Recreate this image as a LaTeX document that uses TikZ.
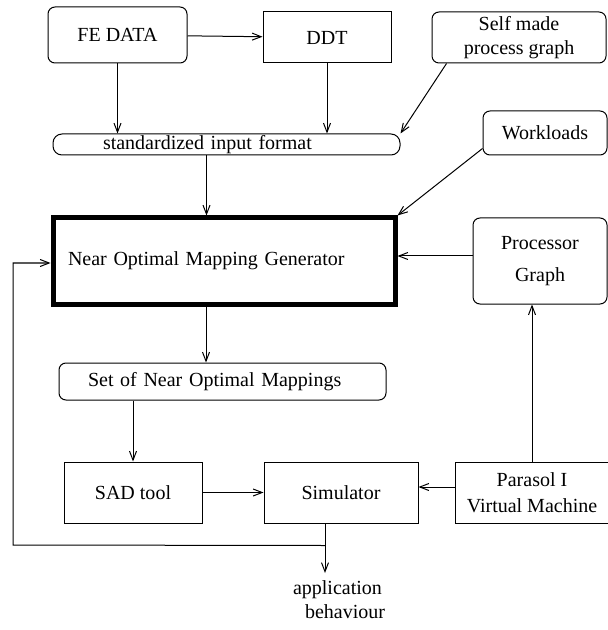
\documentclass[tikz,border=0pt]{standalone}
\usepackage{fontspec}
\setmainfont{Liberation Serif}
\usetikzlibrary{positioning,arrows.meta}
\tikzset{
  rbox/.style    = {draw, rounded corners=3.5pt, align=center, line width=0.5pt, inner sep=0pt},
  sbox/.style    = {draw, align=center, line width=0.5pt, inner sep=0pt},
  mainbox/.style = {draw, line width=2.5pt, align=left, inner xsep=7.5pt, text width=156pt, minimum height=43pt},
  flow/.style    = {-{Straight Barb[length=4.5pt,width=3.5pt]}, line width=0.5pt},
}
\begin{document}
\begin{tikzpicture}[x=0.5pt, y=-0.5pt]
  \useasboundingbox (0,0) rectangle (608,630);
  \node[rbox, minimum width=69.5pt, minimum height=28pt] (fe) at (117.5,35) {FE DATA};
  \node[sbox, minimum width=64pt, minimum height=25.5pt] (ddt) at (327,37.5) {DDT};
  \node[rbox, minimum width=87pt, minimum height=25.5pt] (selfpg) at (519,37.5) {Self made\\process graph};
  \node[rbox, rounded corners=4.5pt, align=left, inner xsep=25pt, text width=123.5pt, minimum height=10.5pt] (infmt) at (226.5,144.5) {standardized input format};
  \node[rbox, minimum width=62pt, minimum height=22pt] (work) at (545,133) {Workloads};
  \node[mainbox] (nomg) at (224,261) {Near Optimal Mapping Generator};
  \node[rbox, minimum width=67pt, minimum height=43pt] (procg) at (540,261) {Processor\\[4pt]Graph};
  \node[rbox, align=left, inner xsep=14.5pt, text width=134.5pt, minimum height=18.5pt] (maps) at (222.5,381.5) {Set of Near Optimal Mappings};
  \node[sbox, minimum width=69pt, minimum height=30.5pt] (sad) at (133,492.5) {SAD tool};
  \node[sbox, minimum width=77pt, minimum height=30.5pt, right=30.5pt of sad] (sim) {Simulator};
  \node[sbox, minimum width=77pt, minimum height=30.5pt, right=18pt of sim] (pvm) {Parasol I\\[1pt]Virtual Machine};
  \node[anchor=north, align=left, inner sep=3.5pt] (behav) at (339,573) {application\\\hspace*{6pt}behaviour};
  \coordinate (fbk) at ([xshift=-8pt,yshift=-11pt]sim.south);
  \coordinate (fbcorner) at (13,545);

  \draw[flow] (fe) -- (fe |- infmt.north);
  \draw[flow] (fe) -- (ddt);
  \draw[flow] (ddt) -- (ddt |- infmt.north);
  \draw[flow] ([xshift=7.5pt]selfpg.south west) -- (infmt.north east);
  \draw[flow] ([xshift=-10pt]infmt.south) -- ([xshift=-10pt]infmt.south |- nomg.north);
  \draw[flow] ([yshift=3.5pt]work.south west) -- (nomg.north east);
  \draw[flow] ([yshift=2.5pt]procg.west) -- ([yshift=2.5pt]procg.west -| nomg.east);
  \draw[flow] ([xshift=-9pt]nomg.south) -- ([xshift=-9pt]nomg.south |- maps.north);
  \draw[flow] (sad.north |- maps.south) -- (sad.north);
  \draw[flow] (sad) -- (sim);
  \draw[flow] ([yshift=2.75pt]pvm.west) -- ([yshift=2.75pt]pvm.west -| sim.east);
  \draw[flow] (pvm.north) -- (pvm.north |- procg.south);
  \draw[flow] ([xshift=-8pt]sim.south) -- ([xshift=-8pt]sim.south |- behav.north);
  \draw[flow] (fbk) -- (fbcorner) |- ([yshift=-1pt]nomg.west);
\end{tikzpicture}
\end{document}
